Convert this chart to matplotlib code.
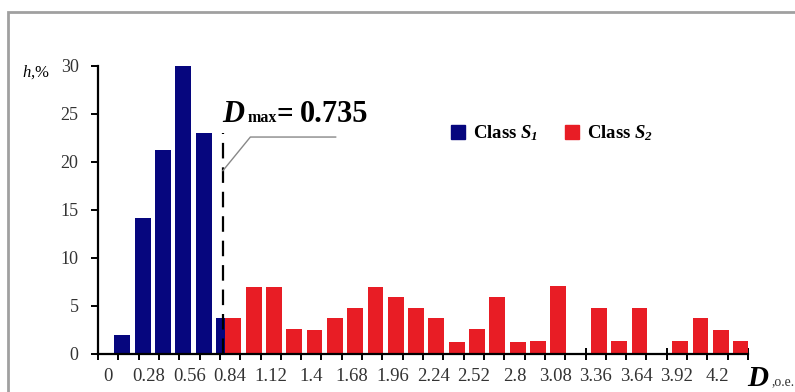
"""Histogram of D for two classes (S1 / S2) with the Dmax threshold line."""
import matplotlib
matplotlib.use("Agg")
import matplotlib.pyplot as plt
import numpy as np
from matplotlib.patches import Rectangle

plt.rcParams["font.family"] = ["Liberation Serif", "DejaVu Serif"]
plt.rcParams["mathtext.fontset"] = "custom"
plt.rcParams["mathtext.rm"] = "Liberation Serif"
plt.rcParams["mathtext.it"] = "Liberation Serif:italic"
plt.rcParams["mathtext.bf"] = "Liberation Serif:bold"
plt.rcParams["mathtext.bfit"] = "Liberation Serif:italic:bold"

# bins of width 0.14, 32 categories: 0, 0.14, ..., 4.34
BIN = 0.14
n_bins = 32
class_s1 = [0, 2.0, 14.2, 21.2, 30.1, 23.0, 3.7]          # bins 0..6
class_s2 = [3.7, 7.0, 7.0, 2.6, 2.5, 3.7, 4.8, 7.0, 5.9, 4.8,
            3.7, 1.3, 2.6, 5.9, 1.2, 1.4, 7.1, 0, 4.8, 1.4,
            4.8, 0, 1.4, 3.7, 2.5, 1.4]                     # bins 6..31
s2_first_bin = 6
d_max = 0.735
y_ticks = [0, 5, 10, 15, 20, 25, 30]

BLUE = "#06067e"
RED = "#e81d25"
W, H = 795, 392

fig = plt.figure(figsize=(W / 100, H / 100), dpi=100)
ax = fig.add_axes([98 / W, 1 - 354 / H, 650 / W, 288 / H])

idx1 = np.arange(len(class_s1))
idx2 = np.arange(len(class_s2)) + s2_first_bin
ax.bar(idx1 + 0.2, class_s1, width=0.78, color=BLUE, zorder=2)
ax.bar(idx2 + 0.66, class_s2, width=0.78, color=RED, zorder=3)

ax.set_xlim(0, n_bins)
ax.set_ylim(0, 30)
ax.set_axisbelow(True)
for s in ("top", "right"):
    ax.spines[s].set_visible(False)
for s in ("left", "bottom"):
    ax.spines[s].set_linewidth(1.6)
    ax.spines[s].set_zorder(4)

ax.set_yticks(y_ticks)
ax.tick_params(axis="y", direction="out", length=5, width=1.4, pad=9,
               labelsize=13, labelcolor="#333333")
ax.set_xticks(np.arange(n_bins + 1))
ax.set_xticklabels([])
ax.tick_params(axis="x", which="major", direction="inout", length=9, width=1.4)
lab_idx = np.arange(0, n_bins - 1, 2)
ax.set_xticks(lab_idx + 0.5, minor=True)
ax.set_xticklabels([f"{round(i * BIN, 2):g}" for i in lab_idx], minor=True)
ax.tick_params(axis="x", which="minor", length=0, pad=10, labelsize=13.5,
               labelcolor="#333333")

# threshold line; placed between the two class groups
dx = 6.15
ax.plot([dx, dx], [0, 23.0], color="black", lw=1.6, ls=(0, (7, 4)), zorder=5)
ax.plot([dx, 7.5, 11.7], [19.1, 22.6, 22.6], color="#888888", lw=1, zorder=5)


def ptext(x, y, s, **kw):
    # x, y in pixels from top-left, y = baseline
    fig.text(x / W, 1 - y / H, s, va="baseline", **kw)


ptext(222, 122, "D", fontsize=22, fontweight="bold", fontstyle="italic")
ptext(248, 122, "max", fontsize=11.5, fontweight="bold")
ptext(277, 122, "=", fontsize=21, fontweight="bold")
ptext(300, 122, f"{d_max}", fontsize=22, fontweight="bold")

ptext(22, 77, "$h$,%", fontsize=12)
ptext(747, 386, "D", fontsize=21, fontweight="bold", fontstyle="italic")
ptext(772, 385, ",o.e.", fontsize=10, color="#333333")

# legend
for x0, col, lab in [(451, BLUE, r"Class $\mathbfit{S}_{\mathbfit{1}}$"),
                     (565, RED, r"Class $\mathbfit{S}_{\mathbfit{2}}$")]:
    fig.patches.append(Rectangle((x0 / W, 1 - 139 / H), 14 / W, 14 / H,
                                 transform=fig.transFigure, color=col))
    ptext(x0 + 22, 138, lab, fontsize=13.5, fontweight="bold")

# grey frame of the original figure
fig.patches.append(Rectangle((8 / W, -0.1), 1.1, 1 - 12 / H + 0.1,
                             transform=fig.transFigure, fill=False,
                             edgecolor="#a0a0a0", lw=2))

fig.savefig("out.png", dpi=100)
